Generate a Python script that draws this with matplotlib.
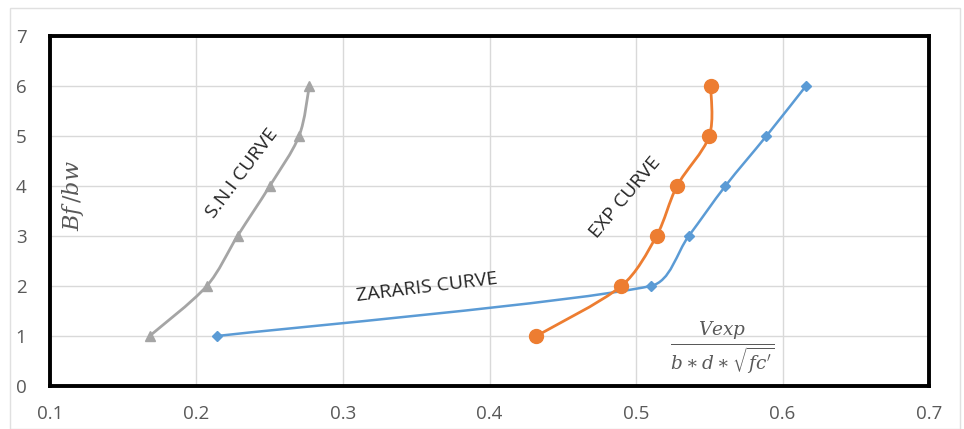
import numpy as np
import matplotlib
matplotlib.use("Agg")
import matplotlib.pyplot as plt
from matplotlib.path import Path
from matplotlib.patches import PathPatch, Rectangle

# ── data ────────────────────────────────────────────────────────────────────
bf_bw   = [1, 2, 3, 4, 5, 6]
sni_x   = [0.168, 0.207, 0.228, 0.250, 0.270, 0.277]
zar_x   = [0.214, 0.510, 0.536, 0.561, 0.589, 0.616]
exp_x   = [0.432, 0.490, 0.514, 0.528, 0.550, 0.551]

x_ticks = [0.1, 0.2, 0.3, 0.4, 0.5, 0.6, 0.7]
y_ticks = [0, 1, 2, 3, 4, 5, 6, 7]

GRAY   = "#A5A5A5"
BLUE   = "#5B9BD5"
ORANGE = "#ED7D31"
TXT    = "#595959"

plt.rcParams["font.family"] = ["Open Sans", "DejaVu Sans"]
plt.rcParams["mathtext.fontset"] = "dejavuserif"


def smooth_line(ax, xs, ys, color, lw):
    """Excel-style smoothed line: cubic Bezier through the points, in screen space."""
    pts = ax.transData.transform(np.column_stack([xs, ys]))
    n = len(pts)
    verts = [pts[0]]
    codes = [Path.MOVETO]
    for i in range(n - 1):
        p0 = pts[max(i - 1, 0)]
        p1 = pts[i]
        p2 = pts[i + 1]
        p3 = pts[min(i + 2, n - 1)]
        seg = np.linalg.norm(p2 - p1)
        a1 = (p2 - p0) / 6.0
        a2 = (p3 - p1) / 6.0
        # keep the handles short so sharp bends do not loop
        for a in (a1, a2):
            la = np.linalg.norm(a)
            if la > 0.33 * seg:
                a *= 0.33 * seg / la
        verts += [p1 + a1, p2 - a2, p2]
        codes += [Path.CURVE4] * 3
    verts = ax.transData.inverted().transform(np.array(verts))
    ax.add_patch(PathPatch(Path(verts, codes), fill=False, edgecolor=color,
                           lw=lw, zorder=3, capstyle="round"))


fig = plt.figure(figsize=(9.64, 4.29), dpi=100)
ax = fig.add_axes([50 / 964, 1 - 386 / 429, 879 / 964, 350 / 429])
ax.set_xlim(0.1, 0.7)
ax.set_ylim(0, 7)
ax.set_xticks(x_ticks)
ax.set_yticks(y_ticks)
ax.set_xticklabels([f"{v:.1f}" for v in x_ticks])
ax.grid(True, color="#D9D9D9", lw=1.0)
ax.set_axisbelow(True)
for s in ax.spines.values():
    s.set_linewidth(2.8)
    s.set_color("black")
ax.tick_params(length=0, labelsize=13.5, colors=TXT)
ax.tick_params(axis="y", pad=17)
ax.tick_params(axis="x", pad=14)
fig.canvas.draw()

smooth_line(ax, sni_x, bf_bw, GRAY, 2.0)
smooth_line(ax, zar_x, bf_bw, BLUE, 1.8)
smooth_line(ax, exp_x, bf_bw, ORANGE, 2.0)
ax.plot(sni_x, bf_bw, ls="none", marker="^", ms=7, color=GRAY, zorder=4)
ax.plot(zar_x, bf_bw, ls="none", marker="D", ms=5, color=BLUE, zorder=4)
ax.plot(exp_x, bf_bw, ls="none", marker="o", ms=10, color=ORANGE, zorder=4)

# curve labels
lbl = dict(fontsize=14, color="#262626", ha="center", va="center",
           rotation_mode="anchor")
ax.text(0.231, 4.26, "S.N.I CURVE", rotation=53, **lbl)
ax.text(0.4925, 3.76, "EXP CURVE", rotation=50, **lbl)
ax.text(0.357, 1.98, "ZARARIS CURVE", rotation=7, **lbl)
ax.text(0.1157, 3.8, r"$Bf\,/bw$", rotation=90, fontsize=16, color=TXT,
        ha="center", va="center")
ax.text(0.5587, 0.74, r"$\frac{Vexp}{b\ast d\ast\sqrt{fc^{\prime}}}$", fontsize=19,
        color=TXT, ha="center", va="center")

# light outer frame of the chart area
fig.patches.append(Rectangle((10 / 964, 0), 950 / 964, 1 - 8 / 429, fill=False,
                             edgecolor="#E0E0E0", lw=1.0, transform=fig.transFigure))

fig.savefig("out.png", dpi=100)
